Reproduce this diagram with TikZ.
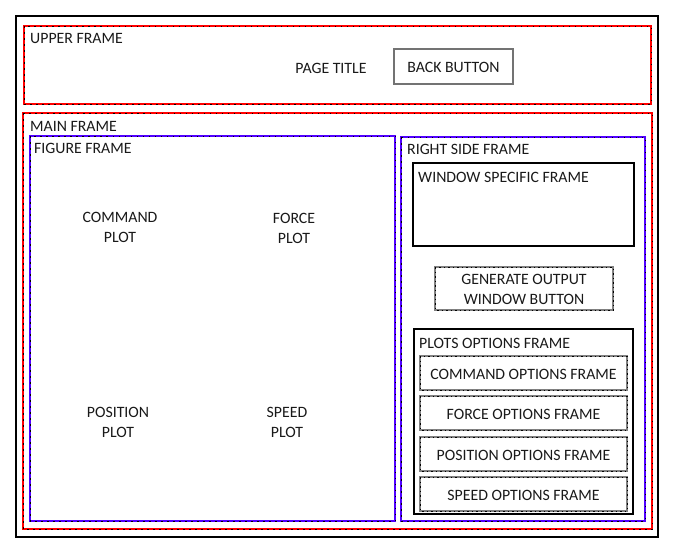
\documentclass[tikz,border=0pt]{standalone}
\usepackage{fontspec}
\setmainfont{Carlito}
\definecolor{framered}{RGB}{255,0,0}
\definecolor{frameblue}{RGB}{80,0,255}
\begin{document}
\begin{tikzpicture}[x=1pt,y=1pt]
\tikzstyle{every node}+=[inner sep=0pt, font=\fontsize{15.8}{20}\selectfont, text=black!90]
\tikzstyle{redframe}=[draw=framered, line width=2.2pt, postaction={draw=black, line width=0.8pt, dash pattern=on 1.5pt off 4.5pt}]
\tikzstyle{blueframe}=[draw=frameblue, line width=2.2pt, postaction={draw=black, line width=0.8pt, dash pattern=on 1.5pt off 4.5pt}]
\tikzstyle{grayframe}=[draw=black!50, line width=2pt, postaction={draw=black, line width=0.7pt, dash pattern=on 1.5pt off 3pt}]
\tikzstyle{plainframe}=[draw=black, line width=2pt]
\useasboundingbox (0,0) rectangle (676,-552);
\draw [line width=2.2pt] (16,-16) rectangle (658,-537);
% upper frame
\draw [redframe] (24,-26) rectangle (651,-104);
\draw (30,-38) node [right] (upperlbl) {UPPER FRAME};
\draw (331,-68) node (title) {PAGE TITLE};
\draw [draw=black!55, line width=1.7pt] (394,-49) rectangle (513,-84);
\draw (453.5,-67.5) node (back) {BACK BUTTON};
% main frame
\draw [redframe] (23,-113) rectangle (652,-529);
\draw (30,-126) node [right] (mainlbl) {MAIN FRAME};
\draw [blueframe] (30,-136) rectangle (395,-521);
\draw (34,-148) node [right] (figlbl) {FIGURE FRAME};
\draw (120,-227) node [align=center] (cmdplot) {COMMAND\\PLOT};
\draw (294,-228) node [align=center] (forceplot) {FORCE\\PLOT};
\draw (118,-422) node [align=center] (posplot) {POSITION\\PLOT};
\draw (287,-422) node [align=center] (speedplot) {SPEED\\PLOT};
% right side
\draw [blueframe] (401,-137) rectangle (645,-521);
\draw (407,-149) node [right] (rightlbl) {RIGHT SIDE FRAME};
\draw [plainframe] (413,-163) rectangle (634,-246);
\draw (418,-177) node [right] (winlbl) {WINDOW SPECIFIC FRAME};
\draw [grayframe] (435,-267) rectangle (613,-310);
\draw (524,-289.5) node [align=center] (genbtn) {GENERATE OUTPUT\\WINDOW BUTTON};
\draw [plainframe] (414,-329) rectangle (633,-514);
\draw (419,-343) node [right] (plotslbl) {PLOTS OPTIONS FRAME};
\draw [grayframe] (420,-356) rectangle (627,-390);
\draw (523.5,-374) node (cmdopt) {COMMAND OPTIONS FRAME};
\draw [grayframe] (420,-396) rectangle (627,-430);
\draw (523.5,-414) node (forceopt) {FORCE OPTIONS FRAME};
\draw [grayframe] (420,-437) rectangle (627,-471);
\draw (523.5,-455) node (posopt) {POSITION OPTIONS FRAME};
\draw [grayframe] (420,-477) rectangle (627,-511);
\draw (523.5,-495) node (speedopt) {SPEED OPTIONS FRAME};
\end{tikzpicture}
\end{document}
